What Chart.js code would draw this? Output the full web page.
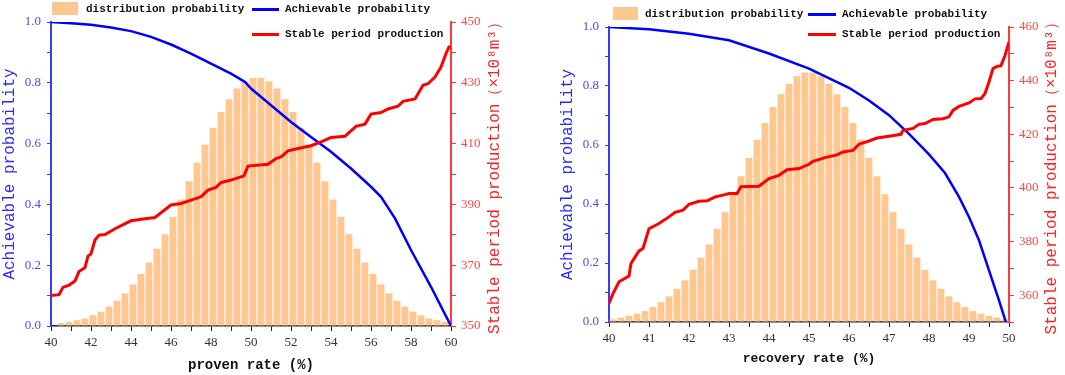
<!DOCTYPE html>
<html>
<head>
<title>Proven rate / recovery rate probability</title>
<script src="https://cdn.jsdelivr.net/npm/chart.js@4.4.0/dist/chart.umd.min.js"></script>
<style>
body{margin:0;background:#fff;}
#wrap{position:relative;width:1065px;height:375px;overflow:hidden;}
canvas{position:absolute;top:0;}
.lg{position:absolute;font:bold 11px "Liberation Mono",monospace;color:#111;white-space:nowrap;line-height:12px;}
.sw{position:absolute;}
</style>
</head>
<body>
<div id="wrap">
<canvas id="c1" width="530" height="375" style="left:0"></canvas>
<canvas id="c2" width="535" height="375" style="left:530px"></canvas>

<div class="sw" style="left:52px;top:2px;width:26px;height:13px;background:#fdc791"></div>
<div class="lg" style="left:86px;top:3px">distribution probability</div>
<div class="sw" style="left:252px;top:8px;width:27px;height:3px;background:#0000ff"></div>
<div class="lg" style="left:285px;top:3px">Achievable probability</div>
<div class="sw" style="left:252px;top:33px;width:27px;height:3px;background:#ff0000"></div>
<div class="lg" style="left:285px;top:28px">Stable period production</div>

<div class="sw" style="left:613px;top:7px;width:25px;height:13px;background:#fdc791"></div>
<div class="lg" style="left:645px;top:8px">distribution probability</div>
<div class="sw" style="left:808px;top:13px;width:28px;height:3px;background:#0000ff"></div>
<div class="lg" style="left:842px;top:8px">Achievable probability</div>
<div class="sw" style="left:808px;top:33px;width:28px;height:3px;background:#ff0000"></div>
<div class="lg" style="left:842px;top:28px">Stable period production</div>
</div>
<script>
// ---- left chart: proven rate ----
var provenBins = [40.5, 40.9, 41.3, 41.7, 42.1, 42.5, 42.9, 43.3, 43.7, 44.1, 44.5, 44.9, 45.3, 45.7, 46.1, 46.5, 46.9,
  47.3, 47.7, 48.1, 48.5, 48.9, 49.3, 49.7, 50.1, 50.5, 50.9, 51.3, 51.7, 52.1, 52.5, 52.9, 53.3, 53.7, 54.1, 54.5,
  54.9, 55.3, 55.7, 56.1, 56.5, 56.9, 57.3, 57.7, 58.1, 58.5, 58.9, 59.3, 59.7];
var provenDist = [0.009, 0.013, 0.019, 0.025, 0.035, 0.047, 0.064, 0.083, 0.107, 0.137, 0.171, 0.209, 0.254, 0.302,
  0.359, 0.416, 0.476, 0.537, 0.596, 0.652, 0.704, 0.746, 0.781, 0.805, 0.816, 0.816, 0.805, 0.781, 0.746, 0.704,
  0.652, 0.596, 0.537, 0.476, 0.416, 0.359, 0.302, 0.254, 0.209, 0.171, 0.137, 0.107, 0.083, 0.064, 0.047, 0.035,
  0.025, 0.019, 0.013];
var provenAchX = [40, 41, 42, 43, 44, 45, 46, 47, 48, 49, 49.7, 50, 51, 52, 53, 54, 55, 56, 56.5, 57.2, 58, 59, 60];
var provenAchY = [1.0, 0.996, 0.991, 0.982, 0.970, 0.951, 0.926, 0.896, 0.863, 0.830, 0.803, 0.781, 0.726, 0.671,
  0.622, 0.573, 0.518, 0.458, 0.425, 0.354, 0.250, 0.129, 0.0];
var provenProdX = [40, 40.4, 40.6, 40.9, 41.2, 41.4, 41.7, 41.85, 42, 42.2, 42.4, 42.7, 43.2, 44, 44.7, 45.2, 46, 46.5,
  47.5, 47.85, 48.25, 48.5, 49, 49.65, 49.85, 50.85, 51.25, 51.5, 51.85, 52.35, 53, 53.5, 54, 54.7, 54.9, 55.25,
  55.7, 56, 56.5, 56.85, 57.35, 57.6, 58.2, 58.6, 58.85, 59.2, 59.5, 59.75, 59.9, 60];
var provenProdY = [360.0, 360.3, 362.7, 363.4, 364.8, 367.9, 369.2, 373.0, 373.7, 378.3, 379.9, 380.1, 382.0, 384.6,
  385.3, 385.7, 389.8, 390.3, 392.5, 394.7, 395.6, 397.2, 398.0, 399.4, 402.6, 403.2, 405.1, 405.6, 407.6, 408.4,
  409.3, 410.6, 412.0, 412.4, 413.6, 415.7, 416.4, 419.7, 420.2, 421.4, 422.3, 423.9, 424.7, 429.2, 429.7, 431.9,
  435.2, 439.6, 441.8, 441.8];
var provenTicks = [40, 41, 42, 43, 44, 45, 46, 47, 48, 49, 50, 51, 52, 53, 54, 55, 56, 57, 58, 59, 60];
var provenLabels = [40, 42, 44, 46, 48, 50, 52, 54, 56, 58, 60];
var prodTicksL = [350, 360, 370, 380, 390, 400, 410, 420, 430, 440, 450];
var prodLabelsL = [350, 370, 390, 410, 430, 450];

// ---- right chart: recovery rate ----
var recoveryBins = [40.1, 40.3, 40.5, 40.7, 40.9, 41.1, 41.3, 41.5, 41.7, 41.9, 42.1, 42.3, 42.5, 42.7, 42.9, 43.1,
  43.3, 43.5, 43.7, 43.9, 44.1, 44.3, 44.5, 44.7, 44.9, 45.1, 45.3, 45.5, 45.7, 45.9, 46.1, 46.3, 46.5, 46.7, 46.9,
  47.1, 47.3, 47.5, 47.7, 47.9, 48.1, 48.3, 48.5, 48.7, 48.9, 49.1, 49.3, 49.5, 49.7, 49.9];
var recoveryDist = [0.009, 0.015, 0.021, 0.028, 0.037, 0.051, 0.067, 0.087, 0.112, 0.141, 0.177, 0.218, 0.263, 0.316,
  0.372, 0.433, 0.494, 0.556, 0.618, 0.675, 0.729, 0.772, 0.808, 0.833, 0.846, 0.846, 0.833, 0.808, 0.772, 0.729,
  0.675, 0.618, 0.556, 0.494, 0.433, 0.372, 0.316, 0.263, 0.218, 0.177, 0.141, 0.112, 0.087, 0.067, 0.051, 0.037,
  0.028, 0.021, 0.015, 0.009];
var recoveryAchX = [40, 41, 42, 43, 44, 45, 46, 46.5, 47, 47.5, 48, 48.4, 48.75, 49, 49.25, 49.5, 49.75, 49.92];
var recoveryAchY = [1.0, 0.992, 0.977, 0.955, 0.910, 0.859, 0.794, 0.751, 0.701, 0.638, 0.568, 0.505, 0.424, 0.356,
  0.277, 0.175, 0.073, 0.0];
var recoveryProdX = [40, 40.1, 40.25, 40.5, 40.55, 40.75, 40.85, 41, 41.25, 41.5, 41.65, 41.85, 42, 42.25, 42.45,
  42.65, 42.85, 43, 43.2, 43.3, 43.75, 44, 44.25, 44.45, 44.75, 45, 45.1, 45.4, 45.7, 45.85, 46.1, 46.25, 46.5, 46.7,
  47, 47.3, 47.35, 47.6, 47.75, 47.9, 48.1, 48.35, 48.5, 48.6, 48.75, 49, 49.15, 49.3, 49.4, 49.5, 49.6, 49.7, 49.8,
  49.9, 50];
var recoveryProdY = [356.9, 360.6, 365.0, 367.1, 371.8, 376.5, 377.4, 384.8, 386.7, 389.2, 390.9, 391.7, 393.9,
  395.0, 395.2, 396.6, 397.3, 397.9, 397.9, 400.4, 400.6, 403.5, 404.7, 406.8, 407.2, 408.8, 409.9, 411.3, 412.3,
  413.4, 414.0, 416.3, 417.5, 418.6, 419.3, 420.0, 421.5, 422.2, 423.7, 424.0, 425.5, 425.8, 426.5, 428.9, 430.4,
  431.7, 433.2, 433.3, 435.2, 439.5, 444.5, 445.3, 445.6, 449.4, 454.4];
var recoveryTicks = [40, 40.5, 41, 41.5, 42, 42.5, 43, 43.5, 44, 44.5, 45, 45.5, 46, 46.5, 47, 47.5, 48, 48.5, 49, 49.5, 50];
var recoveryLabels = [40, 41, 42, 43, 44, 45, 46, 47, 48, 49, 50];
var prodTicksR = [350, 360, 370, 380, 390, 400, 410, 420, 430, 440, 450, 460];
var prodLabelsR = [360, 380, 400, 420, 440, 460];

var probTicks = [0, 0.1, 0.2, 0.3, 0.4, 0.5, 0.6, 0.7, 0.8, 0.9, 1.0];
var probLabels = [0, 0.2, 0.4, 0.6, 0.8, 1.0];

var MONO = '"Liberation Mono", monospace';
var SERIF = '"Liberation Serif", serif';

function zip(xs, ys) {
  return xs.map(function (x, i) { return { x: x, y: ys[i] }; });
}
function setTicks(list) {
  return function (s) { s.ticks = list.map(function (v) { return { value: v }; }); };
}
function showOnly(list, dec) {
  return function (v) { return list.indexOf(v) >= 0 ? v.toFixed(dec) : ''; };
}

// right axis title reads bottom-to-top like the left one
var sideTitle = {
  id: 'sideTitle',
  afterDraw: function (chart, args, o) {
    var ctx = chart.ctx, a = chart.chartArea;
    ctx.save();
    ctx.translate(o.x, (a.top + a.bottom) / 2);
    ctx.rotate(-Math.PI / 2);
    ctx.font = '16px ' + MONO;
    ctx.fillStyle = o.color;
    ctx.textAlign = 'center';
    ctx.textBaseline = 'middle';
    ctx.fillText(o.text, 0, 0);
    ctx.restore();
  }
};

function buildChart(id, g) {
  return new Chart(document.getElementById(id), {
    type: 'bar',
    data: {
      datasets: [
        { type: 'line', label: 'Stable period production', data: zip(g.prodX, g.prodY), yAxisID: 'y2',
          borderColor: '#ff0000', borderWidth: 3, pointRadius: 0, tension: 0, order: 1 },
        { type: 'line', label: 'Achievable probability', data: zip(g.achX, g.achY), yAxisID: 'y',
          borderColor: '#0000ff', borderWidth: 2.5, pointRadius: 0, tension: 0, order: 2 },
        { type: 'bar', label: 'distribution probability', data: zip(g.binX, g.binY), yAxisID: 'y',
          backgroundColor: '#fdc791', borderWidth: 0, barPercentage: 0.86, categoryPercentage: 1, order: 3 }
      ]
    },
    options: {
      responsive: false,
      animation: false,
      events: [],
      layout: { padding: { top: g.top, left: 0, right: 0, bottom: 0 } },
      plugins: {
        legend: { display: false },
        tooltip: { enabled: false },
        sideTitle: { x: g.sideX, color: '#ff2020', text: 'Stable period production\uFF08\u00D710\u2078m\u00B3\uFF09' }
      },
      scales: {
        x: {
          type: 'linear', min: 40, max: g.xMax, offset: false,
          afterBuildTicks: setTicks(g.xTicks),
          afterFit: function (s) { s.height = g.xH; },
          grid: { display: true, offset: false, drawOnChartArea: false, drawTicks: true, tickLength: 5, color: '#222' },
          border: { display: true, color: '#222', width: 1.5 },
          ticks: { autoSkip: false, maxRotation: 0, padding: 4, color: '#333', font: { family: SERIF, size: 13 },
            callback: showOnly(g.xLabels, 0) },
          title: { display: true, text: g.xTitle, color: '#111', font: { family: MONO, size: g.xTitleSize, weight: 'bold' },
            padding: { top: 0, bottom: g.xTitlePad } }
        },
        y: {
          position: 'left', min: 0, max: 1,
          afterBuildTicks: setTicks(probTicks),
          afterFit: function (s) { s.width = g.yW; },
          grid: { display: true, drawOnChartArea: false, drawTicks: true, tickLength: 4, color: '#3a3aff' },
          border: { display: true, color: '#3a3aff', width: 2 },
          ticks: { autoSkip: false, padding: 6, color: '#4a4aff', font: { family: SERIF, size: 13 },
            callback: showOnly(probLabels, 1) },
          title: { display: true, text: 'Achievable probability', color: '#2a2aff', font: { family: MONO, size: 16 },
            padding: { top: g.yTitlePad, bottom: 0 } }
        },
        y2: {
          position: 'right', min: 350, max: g.y2Max,
          afterBuildTicks: setTicks(g.y2Ticks),
          afterFit: function (s) { s.width = g.y2W; },
          grid: { display: true, drawOnChartArea: false, drawTicks: true, tickLength: 5, color: '#ff3a3a' },
          border: { display: true, color: '#ff3a3a', width: 2 },
          ticks: { autoSkip: false, padding: 5, color: '#ff4a4a', font: { family: SERIF, size: 13 },
            callback: showOnly(g.y2Labels, 0) }
        }
      }
    },
    plugins: [sideTitle]
  });
}

buildChart('c1', {
  binX: provenBins, binY: provenDist, achX: provenAchX, achY: provenAchY, prodX: provenProdX, prodY: provenProdY,
  xMax: 60, xTicks: provenTicks, xLabels: provenLabels, xTitle: 'proven rate (%)', xTitleSize: 14, xTitlePad: 1,
  y2Max: 450, y2Ticks: prodTicksL, y2Labels: prodLabelsL,
  top: 22, xH: 49, yW: 51, y2W: 79, yTitlePad: 0, sideX: 495
});
buildChart('c2', {
  binX: recoveryBins, binY: recoveryDist, achX: recoveryAchX, achY: recoveryAchY, prodX: recoveryProdX, prodY: recoveryProdY,
  xMax: 50, xTicks: recoveryTicks, xLabels: recoveryLabels, xTitle: 'recovery rate (%)', xTitleSize: 13, xTitlePad: 8,
  y2Max: 460, y2Ticks: prodTicksR, y2Labels: prodLabelsR,
  top: 27, xH: 53, yW: 79, y2W: 56, yTitlePad: 28, sideX: 522
});
</script>
</body>
</html>
